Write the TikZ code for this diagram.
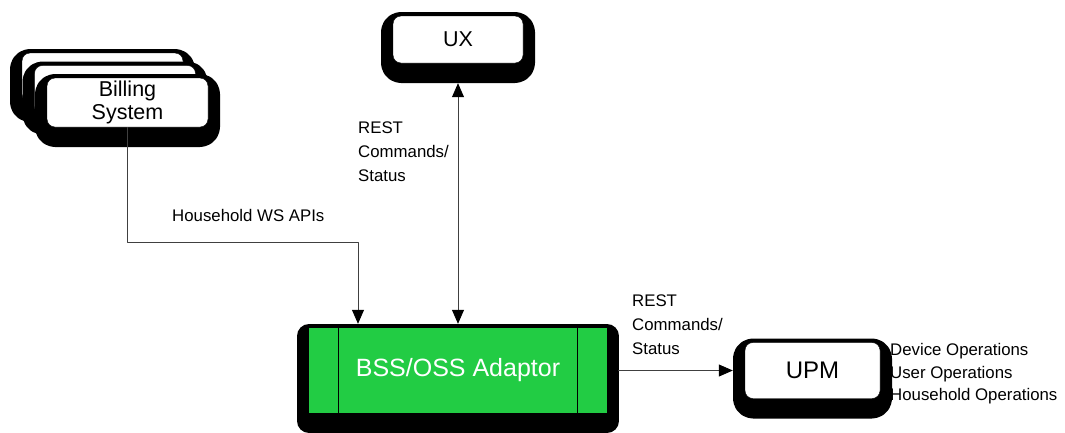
\documentclass[tikz,border=0pt]{standalone}
\usepackage{fontspec}
\setmainfont{Liberation Sans}
\usetikzlibrary{arrows.meta}
\definecolor{adaptorgreen}{RGB}{34,204,68}
\begin{document}
\begin{tikzpicture}[x=1pt,y=-1pt,>={Triangle[length=14pt,width=12pt,color=black]}, line join=round,
  shadowed/.style={preaction={draw=black,fill=black,line width=24pt,line join=round,transform canvas={yshift=-8pt}}},
  box/.style={shadowed,draw=black,fill=white,rounded corners=8pt,inner sep=0pt,align=center,font=\fontsize{21.5}{23.5}\selectfont},
  adaptor/.style={shadowed,fill=adaptorgreen,inner sep=0pt,text=white,font=\fontsize{25}{28}\selectfont},
  lbl/.style={inner sep=0pt,align=left,anchor=west,font=\fontsize{16.8}{24}\selectfont},
  link/.style={draw=black!75,line width=.8pt}]
  \useasboundingbox (0,0) rectangle (1065,432);
  % billing system stack
  \foreach \n/\s in {billingc/25,billingb/12.5}
    \node[box,minimum width=161pt,minimum height=49pt] (\n) at (127.5-\s,102.5-\s) {};
  \node[box,minimum width=161pt,minimum height=49pt] (billing) at (127.5,102.5) {Billing\\System};
  \node[box,minimum width=130pt,minimum height=47pt] (ux) at (458,39.5) {UX};
  \node[adaptor,minimum width=298pt,minimum height=85pt] (bss) at (458,370.5) {BSS/OSS Adaptor};
  \draw ([xshift=29pt]bss.north west) -- ([xshift=29pt]bss.south west);
  \draw ([xshift=-30pt]bss.north east) -- ([xshift=-30pt]bss.south east);
  \node[box,minimum width=135pt,minimum height=56pt,font=\fontsize{24}{26}\selectfont] (upm) at (812.5,370.5) {UPM};
  % connectors
  \draw[link,->] (billing.south) -- ++(0,115) -| ([xshift=-100pt,yshift=4pt]bss.north);
  \draw[link,<->] ([yshift=-20pt]ux.south) -- ([yshift=4pt]bss.north);
  \draw[link,->] ([xshift=11pt]bss.east) -- ([xshift=-12pt]upm.west);
  % labels
  \node[lbl] (wsapi) at (172,215) {Household WS APIs};
  \node[lbl] (uxrest) at (358,152) {REST\\Commands/\\Status};
  \node[lbl] (upmrest) at (632,325) {REST\\Commands/\\Status};
  \node[lbl,font=\fontsize{16.8}{22.5}\selectfont] (upmops) at (890,374) {Device Operations\\User Operations\\Household Operations};
\end{tikzpicture}
\end{document}
